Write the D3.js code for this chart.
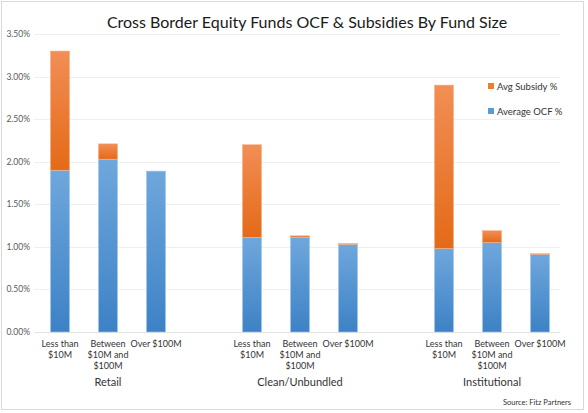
<!DOCTYPE html>
<html>
<head>
<meta charset="utf-8">
<script src="https://cdn.jsdelivr.net/npm/d3@7"></script>
<style>
  html, body { margin: 0; padding: 0; background: #fff; }
  text { font-family: Lato, "Open Sans", sans-serif; }
</style>
</head>
<body>
<div id="chart"></div>
<script>
const groups = ["Retail", "Clean/Unbundled", "Institutional"];
const sizes = ["Less than $10M", "Between $10M and $100M", "Over $100M"];
const sizeLines = [["Less than", "$10M"], ["Between", "$10M and", "$100M"], ["Over $100M"]];
// values in %, per group, per size
const ocf = [
    [1.90, 2.03, 1.89],
    [1.11, 1.11, 1.03],
    [0.98, 1.05, 0.91]
];
const subsidy = [
    [1.40, 0.18, 0.00],
    [1.09, 0.02, 0.01],
    [1.92, 0.14, 0.01]
];
const yTicks = [0, 0.5, 1, 1.5, 2, 2.5, 3, 3.5];

const width = 588;
const height = 413;
const plot = { left: 36, right: 564, top: 34, bottom: 332 };

const svg = d3.select("#chart")
    .append("svg")
    .attr("width", width)
    .attr("height", height);

const defs = svg.append("defs");
function grad(id, top, bottom) {
    const g = defs.append("linearGradient")
        .attr("id", id)
        .attr("x1", 0).attr("y1", 0).attr("x2", 0).attr("y2", 1);
    g.append("stop").attr("offset", "0%").attr("stop-color", top);
    g.append("stop").attr("offset", "100%").attr("stop-color", bottom);
}
grad("gOrange", "#f28e55", "#e46a17");
grad("gBlue", "#6ea7dc", "#3d82c6");

// chart border
svg.append("rect")
    .attr("x", 1.5).attr("y", 1.5)
    .attr("width", 582).attr("height", 408)
    .attr("fill", "white")
    .attr("stroke", "#d9d9d9");

// title
svg.append("text")
    .attr("x", 307)
    .attr("y", 28)
    .attr("text-anchor", "middle")
    .attr("font-size", "16px")
    .attr("fill", "#1a1a1a")
    .text("Cross Border Equity Funds OCF & Subsidies By Fund Size");

const y = d3.scaleLinear()
    .domain([0, 3.5])
    .range([plot.bottom, plot.top]);

const x0 = d3.scaleBand()
    .domain(groups)
    .range([plot.left, plot.right])
    .paddingInner(0.25)
    .paddingOuter(0);

const x1 = d3.scaleBand()
    .domain(sizes)
    .range([0, x0.bandwidth()])
    .paddingInner(0.6)
    .paddingOuter(0.3);

// gridlines
svg.selectAll("line.grid")
    .data(yTicks)
    .enter()
    .append("line")
    .attr("x1", plot.left - 2)
    .attr("x2", plot.right - 4)
    .attr("y1", d => Math.round(y(d)) + 0.5)
    .attr("y2", d => Math.round(y(d)) + 0.5)
    .attr("stroke", d => d === 0 ? "#e3e3e3" : "#efefef")
    .attr("stroke-width", 1);

// y tick labels
svg.selectAll("text.ytick")
    .data(yTicks)
    .enter()
    .append("text")
    .attr("x", 30)
    .attr("y", d => y(d) + 3)
    .attr("text-anchor", "end")
    .attr("font-size", "8.5px")
    .attr("fill", "#595959")
    .text(d => d3.format(".2f")(d) + "%");

// bars
const rows = [];
groups.forEach((g, gi) => {
    sizes.forEach((s, si) => {
        rows.push({ group: g, size: s, si: si, ocf: ocf[gi][si], sub: subsidy[gi][si] });
    });
});

const barG = svg.selectAll("g.bar")
    .data(rows)
    .enter()
    .append("g")
    .attr("transform", d => `translate(${x0(d.group) + x1(d.size)},0)`);

barG.append("rect")
    .attr("x", 0)
    .attr("width", x1.bandwidth())
    .attr("y", d => y(d.ocf))
    .attr("height", d => y(0) - y(d.ocf))
    .attr("fill", "url(#gBlue)")
    .attr("stroke", "#a9cdef")
    .attr("stroke-width", 0.6);

barG.filter(d => d.sub > 0)
    .append("rect")
    .attr("x", 0)
    .attr("width", x1.bandwidth())
    .attr("y", d => y(d.ocf + d.sub))
    .attr("height", d => y(d.ocf) - y(d.ocf + d.sub))
    .attr("fill", "url(#gOrange)")
    .attr("stroke", "#f7b68f")
    .attr("stroke-width", 0.6);

// category labels
barG.each(function (d) {
    const t = d3.select(this).append("text")
        .attr("x", x1.bandwidth() / 2)
        .attr("y", 347)
        .attr("text-anchor", "middle")
        .attr("font-size", "9px")
        .attr("fill", "#333");
    sizeLines[d.si].forEach((line, i) => {
        t.append("tspan")
            .attr("x", x1.bandwidth() / 2)
            .attr("dy", i === 0 ? 0 : 11)
            .text(line);
    });
});

// group labels
svg.selectAll("text.group")
    .data(groups)
    .enter()
    .append("text")
    .attr("x", d => x0(d) + x0.bandwidth() / 2)
    .attr("y", 386)
    .attr("text-anchor", "middle")
    .attr("font-size", "11px")
    .attr("fill", "#333")
    .text(d => d);

// legend
const legendItems = [
    { name: "Avg Subsidy %", color: "#ed7d31" },
    { name: "Average OCF %", color: "#5b9bd5" }
];
const legend = svg.append("g")
    .attr("transform", "translate(488, 83)");
legendItems.forEach((d, i) => {
    legend.append("rect")
        .attr("x", 0)
        .attr("y", i * 25)
        .attr("width", 6)
        .attr("height", 6)
        .attr("fill", d.color);
    legend.append("text")
        .attr("x", 9)
        .attr("y", i * 25 + 6.5)
        .attr("font-size", "9.5px")
        .attr("fill", "#333")
        .text(d.name);
});

// source
svg.append("text")
    .attr("x", 571)
    .attr("y", 405)
    .attr("text-anchor", "end")
    .attr("font-size", "7.5px")
    .attr("fill", "#333")
    .text("Source: Fitz Partners");
</script>
</body>
</html>
